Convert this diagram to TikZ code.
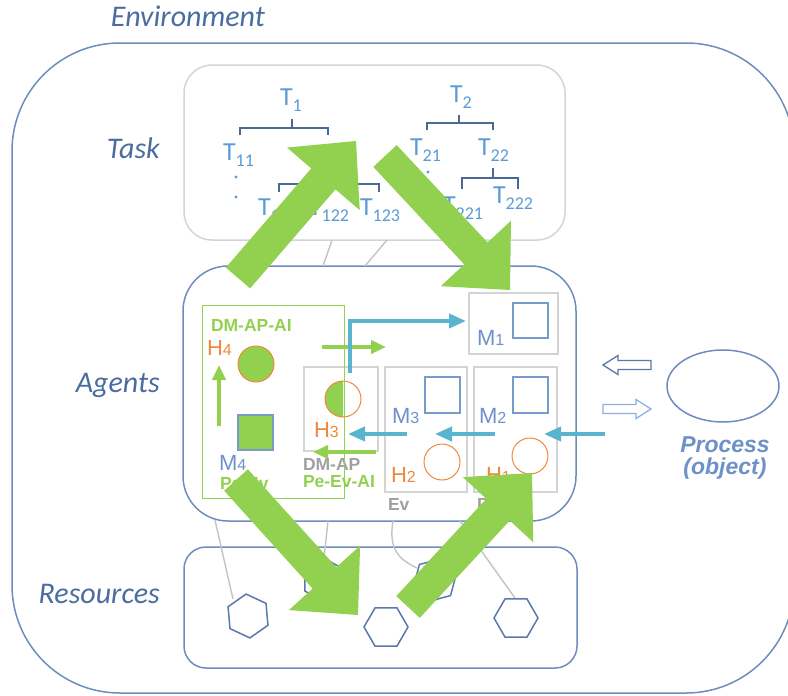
\documentclass[tikz,border=0pt]{standalone}
\usepackage{fontspec}
\setmainfont{Liberation Sans}
\newfontfamily\calfont{Carlito}
\usetikzlibrary{calc,arrows.meta,shapes.geometric}
\definecolor{envline}{RGB}{110,140,190}
\definecolor{lbl}{RGB}{75,108,160}
\definecolor{tblue}{RGB}{91,155,213}
\definecolor{brk}{RGB}{75,105,150}
\definecolor{grn}{RGB}{146,208,80}
\definecolor{org}{RGB}{240,135,60}
\definecolor{cyn}{RGB}{90,180,205}
\definecolor{gbox}{RGB}{212,212,212}
\definecolor{gtxt}{RGB}{160,160,160}
\definecolor{mblue}{RGB}{110,145,200}
\definecolor{gline}{RGB}{195,195,195}
\definecolor{sqblue}{RGB}{120,155,205}
\definecolor{darr}{RGB}{90,120,170}
\definecolor{larr}{RGB}{140,176,225}
\newcommand{\Tl}[1]{T\raisebox{-6pt}{\fontsize{18}{18}\selectfont #1}}
\newcommand{\Ml}[2]{#1{\fontsize{16}{16}\selectfont #2}}
\newcommand{\bigarrow}[2]{%
  \coordinate (hb) at ($(#2)!50pt!(#1)$);
  \fill[grn] ($(#1)!16pt!90:(#2)$) -- ($(hb)!16pt!90:(#2)$) -- ($(hb)!48pt!90:(#2)$) -- (#2)
    -- ($(hb)!48pt!-90:(#2)$) -- ($(hb)!16pt!-90:(#2)$) -- ($(#1)!16pt!-90:(#2)$) -- cycle;}
\begin{document}
\begin{tikzpicture}[x=1pt,y=-1pt,
  rbox/.style={draw, inner sep=0pt, outer sep=0pt},
  gb/.style={rbox, draw=gbox, line width=1.3pt},
  sq/.style={rbox, draw=sqblue, line width=1.1pt},
  lab/.style={anchor=base west, inner sep=0pt, outer sep=0pt},
  big/.style={anchor=base east, inner sep=0pt, font=\calfont\itshape\fontsize{30}{30}\selectfont, text=lbl},
  tlab/.style={lab, font=\calfont\fontsize{26}{26}\selectfont, text=tblue},
  hlab/.style={lab, font=\fontsize{22}{22}\selectfont, text=org},
  mlab/.style={lab, font=\fontsize{22}{22}\selectfont, text=mblue},
  blab/.style={lab, font=\bfseries\fontsize{17.5}{17.5}\selectfont},
  brack/.style={draw=brk, line width=1.3pt},
  conn/.style={draw=gline, line width=1.4pt},
  cyarr/.style={draw=cyn, line width=4pt, -{Triangle[length=17pt,width=14pt]}},
  grarr/.style={draw=grn, line width=4pt, -{Triangle[length=15pt,width=13pt]}},
  hex/.style={regular polygon, regular polygon sides=6, minimum size=44pt, inner sep=0pt, draw=darr, line width=1.5pt}
]
\useasboundingbox (0,0) rectangle (788,696);
% environment
\node[rbox, draw=envline, line width=1.5pt, rounded corners=108pt, minimum width=782pt, minimum height=650pt] (env) at (403,368) {};
\node[big] (envl) at (265,26) {Environment};
\node[big] (taskl) at (160,158) {Task};
\node[big] (agl) at (160,392) {Agents};
\node[big] (resl) at (160,603) {Resources};
% task box
\node[rbox, draw=gbox, line width=1.5pt, rounded corners=28pt, minimum width=381pt, minimum height=175pt] (task) at (374.5,152.5) {};
% trees
\node[tlab] (t1) at (280,105) {\Tl{1}};
\node[tlab] (t11) at (223,160) {\Tl{11}};
\node[tlab] (t121) at (258,215) {\Tl{121}};
\node[tlab] (t122) at (309,215) {\Tl{122}};
\node[tlab] (t123) at (360,215) {\Tl{123}};
\node[tlab] (t2) at (450,102) {\Tl{2}};
\node[tlab] (t21) at (410,155) {\Tl{21}};
\node[tlab] (t22) at (478,155) {\Tl{22}};
\node[tlab] (t221) at (443,213) {\Tl{221}};
\node[tlab] (t222) at (493,203) {\Tl{222}};
\draw[brack] (240,135) -- (240,128) -- (328,128) -- (328,135) (292,128) -- (292,119);
\draw[brack] (279,192) -- (279,184) -- (379,184) -- (379,192) (329,184) -- (329,176);
\draw[brack] (427,130) -- (427,123) -- (493,123) -- (493,130) (459,123) -- (459,115);
\draw[brack] (462,189) -- (462,178) -- (518,178) -- (518,189) (493,178) -- (493,168);
\fill[tblue] (236,177) circle (1.6) (236,197) circle (1.6) (428,172) circle (1.6);
% agents box
\node[rbox, draw=envline, line width=1.5pt, rounded corners=45pt, minimum width=393pt, minimum height=255pt] (agents) at (379.5,393.5) {};
\coordinate (ta1) at (332,240); \coordinate (ag1) at (323,266);
\coordinate (ta2) at (387,240); \coordinate (ag2) at (365,266);
\draw[conn] (ta1) -- (ag1);
\draw[conn] (ta2) -- (ag2);
% inner boxes
\node[gb, minimum width=74pt, minimum height=84pt] (h3box) at (341,409) {};
\node[gb, minimum width=89pt, minimum height=61pt] (m1box) at (513.5,323.5) {};
\node[gb, minimum width=82pt, minimum height=125pt] (m3box) at (426,429.5) {};
\node[gb, minimum width=83pt, minimum height=125pt] (m2box) at (515.5,429.5) {};
\node[sq, minimum width=35pt, minimum height=35pt] (m1sq) at (530.5,320.5) {};
\node[sq, minimum width=35pt, minimum height=36pt] (m3sq) at (442.5,395) {};
\node[sq, minimum width=35pt, minimum height=36pt] (m2sq) at (530.5,395) {};
\node[sq, fill=grn, minimum width=35pt, minimum height=35pt] (m4sq) at (255.5,432.5) {};
\node[circle, draw=org, fill=grn, line width=1pt, minimum size=36pt, inner sep=0pt] (h4c) at (256,364) {};
\fill[grn] (343,381) arc[start angle=270, end angle=90, radius=18] -- cycle;
\node[circle, draw=org, line width=1pt, minimum size=36pt, inner sep=0pt] (h3c) at (343,399) {};
\node[circle, draw=org, line width=1pt, minimum size=36pt, inner sep=0pt] (h2c) at (442,462) {};
\node[circle, draw=org, line width=1pt, minimum size=36pt, inner sep=0pt] (h1c) at (530,456) {};
% labels
\node[blab, text=grn] (dmapai) at (211,331) {DM-AP-AI};
\node[hlab] (h4l) at (207,355) {\Ml{H}{4}};
\node[mlab] (m4l) at (219,470) {\Ml{M}{4}};
\node[blab, text=grn] (peev) at (220,489) {Pe-Ev};
\node[hlab] (h3l) at (314,437) {\Ml{H}{3}};
\node[blab, text=gtxt] (dmap) at (303,470) {DM-AP};
\node[blab, text=grn] (peevai) at (303,487) {Pe-Ev-AI};
\node[mlab] (m1l) at (477,345) {\Ml{M}{1}};
\node[mlab] (m3l) at (392,423) {\Ml{M}{3}};
\node[mlab] (m2l) at (479,423) {\Ml{M}{2}};
\node[hlab] (h2l) at (391,482) {\Ml{H}{2}};
\node[hlab] (h1l) at (486,482) {\Ml{H}{1}};
\node[blab, text=gtxt] (evl) at (388,510) {Ev};
\node[blab, text=gtxt] (pel) at (477,510) {Pe};
% small arrows
\coordinate (ga0) at (219,426); \coordinate (ga1) at (219,365);
\draw[grarr] (ga0) -- (ga1);
\coordinate (gr0) at (322,347); \coordinate (gr1) at (386,347);
\draw[grarr] (gr0) -- (gr1);
\coordinate (gl0) at (376,452); \coordinate (gl1) at (313,452);
\draw[grarr] (gl0) -- (gl1);
\coordinate (cy0) at (350,373); \coordinate (cyc) at (350,321); \coordinate (cy1) at (466,321);
\draw[cyarr] (cy0) -- (cyc) -- (cy1);
\coordinate (c1a) at (605,434); \coordinate (c1b) at (544,434);
\coordinate (c2a) at (495,434); \coordinate (c2b) at (435,434);
\coordinate (c3a) at (407,434); \coordinate (c3b) at (348,434);
\draw[cyarr] (c1a) -- (c1b);
\draw[cyarr] (c2a) -- (c2b);
\draw[cyarr] (c3a) -- (c3b);
% green DM-AP-AI box
\node[rbox, draw=grn, line width=1pt, minimum width=142pt, minimum height=193pt] (gbox) at (273,401.5) {};
% process
\node[ellipse, draw=envline, line width=1.5pt, minimum width=112pt, minimum height=72pt, inner sep=0pt] (proc) at (723,386) {};
\node[anchor=base, inner sep=0pt, font=\bfseries\itshape\fontsize{23}{23}\selectfont, text=mblue] (procl) at (725,452) {Process};
\node[anchor=base, inner sep=0pt, font=\bfseries\itshape\fontsize{23}{23}\selectfont, text=mblue] (objl) at (725,474) {(object)};
\draw[darr, line width=1.3pt] (603,365) -- (618,355.5) -- (618,360.5) -- (651,360.5) -- (651,369.5) -- (618,369.5) -- (618,374.5) -- cycle;
\draw[larr, line width=1.3pt] (651,409) -- (636,399.5) -- (636,404.5) -- (603,404.5) -- (603,413.5) -- (636,413.5) -- (636,418.5) -- cycle;
% resources
\node[rbox, draw=envline, line width=1.5pt, rounded corners=22pt, minimum width=393pt, minimum height=121pt] (res) at (380.5,607.5) {};
\node[hex, rotate=35] (hex1) at (248,616) {};
\node[hex] (hex2) at (386,627) {};
\node[hex] (hex3) at (516,618) {};
\node[hex, rotate=15] (hex4) at (435,580) {};
\node[hex, rotate=30] (hex5) at (324,580) {};
\coordinate (ar1) at (215,520); \coordinate (rh1) at (233,599);
\coordinate (ar2) at (328,521); \coordinate (rh2) at (324,558);
\coordinate (ar3) at (393,521); \coordinate (rh3) at (417,568);
\coordinate (ar4) at (460,521); \coordinate (rh4) at (515,598);
\draw[conn] (ar1) -- (rh1);
\draw[conn] (ar2) -- (rh2);
\draw[conn] (ar3) .. controls (388,550) and (400,560) .. (rh3);
\draw[conn] (ar4) -- (rh4);
% big arrows
\coordinate (a1t) at (238,278); \coordinate (a1h) at (356,141);
\coordinate (a2t) at (385,156); \coordinate (a2h) at (510,290);
\coordinate (a3t) at (236,480); \coordinate (a3h) at (358,615);
\coordinate (a4t) at (408,607); \coordinate (a4h) at (532,473);
\bigarrow{a1t}{a1h}
\bigarrow{a2t}{a2h}
\bigarrow{a3t}{a3h}
\bigarrow{a4t}{a4h}
\end{tikzpicture}
\end{document}
